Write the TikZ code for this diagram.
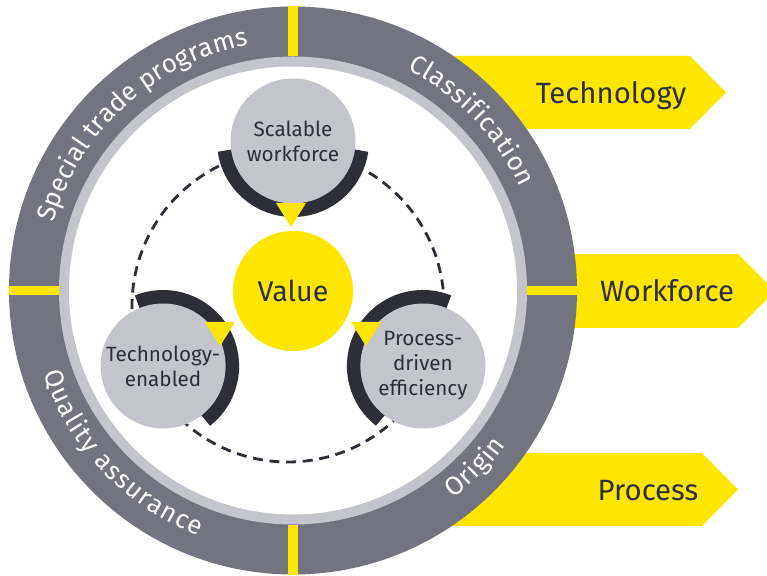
\documentclass[tikz,border=0pt]{standalone}
\usepackage{fontspec}
\setmainfont{Fira Sans}
\usepackage{xcolor}
\usetikzlibrary{calc, decorations.text}

\definecolor{eyyellow}{HTML}{FFE600}
\definecolor{ringgray}{HTML}{747480}
\definecolor{softgray}{HTML}{C4C4CD}
\definecolor{inkgray}{HTML}{2E2E38}
\newcommand{\ringfont}{\fontsize{19.5}{22}\selectfont}

\begin{document}
\begin{tikzpicture}[x=0.75pt, y=0.75pt,
    banner/.style={fill=eyyellow},
    bannertext/.style={anchor=base, text=inkgray, font=\fontsize{22}{26}\selectfont},
    divider/.style={draw=eyyellow, line width=7pt},
    ringlabel/.style={decorate, decoration={text along path, text align=fit to path, text color=white}},
    orbit/.style={draw=inkgray, line width=2.1pt, dash pattern=on 7.5pt off 5pt},
    halfring/.style={draw=inkgray, line width=10.5pt},
    pillar/.style={circle, fill=softgray, minimum size=93.75pt, inner sep=0pt, align=center, text=inkgray, font=\fontsize{15.5}{18.75}\selectfont},
    hub/.style={circle, fill=eyyellow, minimum size=90pt, inner sep=0pt, text=inkgray, font=\fontsize{21.5}{25}\selectfont},
    pointer/.style={fill=eyyellow}
]
    \useasboundingbox (0,0) rectangle (767,575);
    \coordinate (ring) at (293,284.5);
    \coordinate (val) at (293,284);
    \coordinate (c-scal) at ($(val)+(90:150)$);
    \coordinate (c-tech) at ($(val)+(210:150)$);
    \coordinate (c-proc) at ($(val)+(330:150)$);

    % Yellow banners behind the ring
    \begin{scope}
        \clip (0,0) rectangle (767,575);
        \fill[banner] (420,519) -- (690,519) -- (726,482.5) -- (690,446) -- (420,446) -- cycle;
        \fill[banner] (500,321) -- (738,321) -- (775,284) -- (738,247) -- (500,247) -- cycle;
        \fill[banner] (420,122) -- (702,122) -- (738,85.5) -- (702,49) -- (420,49) -- cycle;
    \end{scope}
    \node[bannertext] (technology) at (611,471) {Technology};
    \node[bannertext] (workforce) at (667,273) {Workforce};
    \node[bannertext] (process) at (648,75) {Process};

    % Outer ring
    \fill[ringgray] (ring) circle[radius=284];
    \fill[softgray] (ring) circle[radius=234];
    \fill[white] (ring) circle[radius=224];
    \foreach \a in {0,90,180,270}
        \draw[divider] ($(ring)+(\a:234)$) -- ($(ring)+(\a:284)$);

    % Ring labels
    \path[ringlabel, decoration={text={|\ringfont|Special trade programs}}]
        ($(ring)+(164.2:249)$) arc[start angle=164.2, end angle=100.3, radius=249];
    \path[ringlabel, decoration={text={|\ringfont|Classification}}]
        ($(ring)+(62.7:249)$) arc[start angle=62.7, end angle=24.4, radius=249];
    \path[ringlabel, decoration={text={|\ringfont|Quality assurance}}]
        ($(ring)+(198.4:263)$) arc[start angle=198.4, end angle=249, radius=263];
    \path[ringlabel, decoration={text={|\ringfont|Origin}}]
        ($(ring)+(-52.4:263)$) arc[start angle=-52.4, end angle=-36, radius=263];

    % Dashed cycle
    \draw[orbit] (288,269) circle[radius=156];

    % Dark half rings facing the centre
    \foreach \n/\a in {scal/-90, tech/30, proc/150}
        \draw[halfring] ($(c-\n)+(\a-82:69)$) arc[start angle=\a-82, end angle=\a+82, radius=69];

    % Circles
    \node[pillar] (scal) at (c-scal) {Scalable\\workforce};
    \node[pillar] (tech) at (c-tech) {Technology-\\enabled};
    \node[pillar] (proc) at (c-proc) {Process-\\driven\\efficiency};
    \node[hub] (value) at (val) {Value};

    % Pointers
    \fill[pointer] ($(scal)+(-17,-62)$) -- ($(scal)+(13,-62)$) -- ($(scal)+(-2,-86)$) -- cycle;
    \fill[pointer] ($(tech)+(42,44)$) -- ($(tech)+(72,44)$) -- ($(tech)+(57,20)$) -- cycle;
    \fill[pointer] ($(proc)+(-72,44)$) -- ($(proc)+(-42,44)$) -- ($(proc)+(-57,20)$) -- cycle;
\end{tikzpicture}
\end{document}
